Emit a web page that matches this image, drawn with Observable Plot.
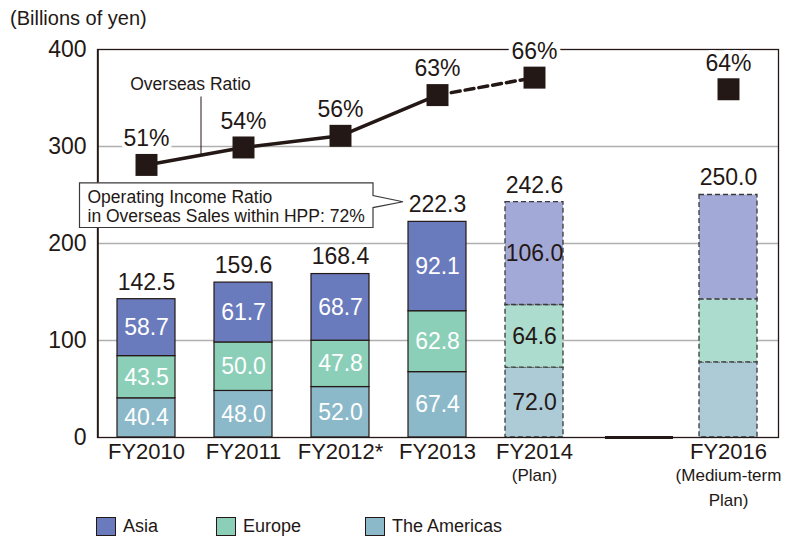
<!DOCTYPE html>
<html><head><meta charset="utf-8">
<script src="https://cdn.jsdelivr.net/npm/d3@7"></script>
<script src="https://cdn.jsdelivr.net/npm/@observablehq/plot@0.6"></script>
<style>
body{margin:0;background:#fff;font-family:"Liberation Sans",Arial,sans-serif;color:#231815}
#wrap{position:relative;width:785px;height:536px;overflow:hidden}
#chart svg{display:block}
#title{position:absolute;left:10px;top:6px;font-size:20px;line-height:24px}
.leg{position:absolute;top:515px;height:22px;display:flex;align-items:center;font-size:18px}
.sw{width:20px;height:19px;border:1.5px solid #231815;margin-right:7px;box-sizing:border-box}
</style></head><body>
<div id="wrap"><div id="chart"></div><div id="title">(Billions of yen)</div></div>
<script>
const slots = ["FY2010","FY2011","FY2012*","FY2013","FY2014","gap","FY2016"];
const categories = ["FY2010","FY2011","FY2012*","FY2013","FY2014","FY2016"];
const subLabel1 = ["","","","","(Plan)","(Medium-term"];
const subLabel2 = ["","","","","","Plan)"];
const regions = ["The Americas","Europe","Asia"];
const americas = [40.4, 48.0, 52.0, 67.4, 72.0, 77.5];
const europe   = [43.5, 50.0, 47.8, 62.8, 64.6, 65.0];
const asia     = [58.7, 61.7, 68.7, 92.1, 106.0, 107.5];
const totals   = ["142.5","159.6","168.4","222.3","242.6","250.0"];
const overseasRatio = [51, 54, 56, 63, 66, 64];
const isPlan = [false,false,false,false,true,true];
const showSegmentLabel = [true,true,true,true,true,false];
const yTicks = [0,100,200,300,400];
const gridTicks = [100,200,300];
const legendItems = ["Asia","Europe","The Americas"];

const colors = {"Asia":"#6a7bbd","Europe":"#8bcfb8","The Americas":"#8cb9ca"};
const planColors = {"Asia":"#a3a9d6","Europe":"#abdccd","The Americas":"#adcbd7"};
const ink = "#231815";

const series = {"The Americas":americas,"Europe":europe,"Asia":asia};
const rows = [];
categories.forEach((c,i)=>{
  let base = 0;
  regions.forEach(r=>{
    const v = series[r][i];
    rows.push({year:c, region:r, value:v, y1:base, y2:base+v, plan:isPlan[i], show:showSegmentLabel[i]});
    base += v;
  });
});
const totalRows = categories.map((c,i)=>({year:c, top:americas[i]+europe[i]+asia[i], text:totals[i]}));
// secondary (ratio) axis placed onto the yen axis
const ratioPos = r => 6*r - 25;
const ratioRows = categories.map((c,i)=>({year:c, ratio:overseasRatio[i], pos:ratioPos(overseasRatio[i])}));
const subRows1 = categories.map((c,i)=>({year:c, text:subLabel1[i]})).filter(d=>d.text);
const subRows2 = categories.map((c,i)=>({year:c, text:subLabel2[i]})).filter(d=>d.text);

const chart = Plot.plot({
  width:785, height:536,
  marginTop:49, marginBottom:99, marginLeft:97, marginRight:7,
  style:{fontFamily:'"Liberation Sans", Arial, sans-serif', color:ink, background:"white"},
  x:{type:"band", domain:slots, paddingInner:0.4, paddingOuter:0.2, axis:null},
  y:{domain:[0,400], axis:null},
  marks:[
    Plot.ruleY(gridTicks, {stroke:"#b0b0b0", strokeWidth:1.3}),
    Plot.barY(rows.filter(d=>!d.plan), {x:"year", y1:"y1", y2:"y2", fill:d=>colors[d.region], stroke:ink, strokeWidth:1.2}),
    Plot.barY(rows.filter(d=>d.plan), {x:"year", y1:"y1", y2:"y2", fill:d=>planColors[d.region], stroke:"#3a3a3a", strokeWidth:1.3, strokeDasharray:"5,3"}),
    Plot.frame({stroke:ink, strokeWidth:1.3}),
    Plot.ruleX([0], {x:()=>"FY2010", y1:0, y2:400, dx:-48.6, stroke:ink, strokeWidth:1.8}),
    Plot.tickY([0], {x:()=>"gap", y:d=>d, dx:8, insetLeft:-5, insetRight:-5, stroke:ink, strokeWidth:3}),
    Plot.text(rows.filter(d=>d.show), {x:"year", y:d=>(d.y1+d.y2)/2, text:d=>d.value.toFixed(1), fill:d=>d.plan?ink:"white", fontSize:23}),
    Plot.text(totalRows, {x:"year", y:"top", text:"text", dy:-17, fill:ink, fontSize:23}),
    Plot.line(ratioRows.slice(0,4), {x:"year", y:"pos", stroke:ink, strokeWidth:3.5}),
    Plot.line(ratioRows.slice(3,5), {x:"year", y:"pos", stroke:ink, strokeWidth:3.5, strokeDasharray:"9,5"}),
    Plot.dot(ratioRows, {x:"year", y:"pos", symbol:"square", r:12.4, fill:ink}),
    Plot.text(ratioRows, {x:"year", y:"pos", text:d=>d.ratio+"%", dy:-26, fill:ink, stroke:"white", strokeWidth:8, paintOrder:"stroke", fontSize:23}),
    Plot.text(["Overseas Ratio"], {x:()=>"FY2010", y:()=>364, text:d=>d, dx:44, fill:ink, fontSize:17.5}),
    Plot.ruleX([0], {x:()=>"FY2010", y1:351, y2:290, dx:54.5, stroke:ink, strokeWidth:1}),
    Plot.text(categories, {x:d=>d, text:d=>d, frameAnchor:"bottom", dy:21, fill:ink, fontSize:22}),
    Plot.text(subRows1, {x:"year", text:"text", frameAnchor:"bottom", dy:43, fill:ink, fontSize:17}),
    Plot.text(subRows2, {x:"year", text:"text", frameAnchor:"bottom", dy:68, fill:ink, fontSize:17}),
    Plot.text(yTicks, {y:d=>d, text:d=>String(d), frameAnchor:"left", dx:-11, textAnchor:"end", fill:ink, fontSize:23})
  ]
});
document.getElementById("chart").appendChild(chart);

// callout box (annotation) placed via the chart's own scales
const xs = chart.scale("x"), ys = chart.scale("y");
const cx = c => xs.apply(c) + xs.bandwidth/2;
const L = cx("FY2010") - 66.5, R = cx("FY2013") - 64, T = cx("FY2013") - 34;
const Y = v => ys.apply(v);
const svg = d3.select(chart.tagName.toLowerCase()==="svg" ? chart : chart.querySelector("svg"));
const g = svg.append("g");
g.append("path")
  .attr("d", `M${L},${Y(262)}H${R}V${Y(249)}L${T},${Y(242.5)}L${R},${Y(236.5)}V${Y(216)}H${L}Z`)
  .attr("fill","white").attr("stroke","#3a3a3a").attr("stroke-width",1.2);
const boxText = ["Operating Income Ratio","in Overseas Sales within HPP: 72%"];
const boxY = [248, 227.5];
boxText.forEach((t,i)=>{
  g.append("text").attr("x", L+8).attr("y", Y(boxY[i])).attr("dy","0.35em")
   .attr("text-anchor","start").attr("font-size",17.5).attr("fill",ink).text(t);
});

// legend
const legLeft = {"Asia":96, "Europe":216, "The Americas":365};
const wrap = document.getElementById("wrap");
legendItems.forEach(name=>{
  const d = document.createElement("div");
  d.className = "leg";
  d.style.left = legLeft[name] + "px";
  d.innerHTML = `<span class="sw" style="background:${colors[name]}"></span><span>${name}</span>`;
  wrap.appendChild(d);
});
</script>
</body></html>
